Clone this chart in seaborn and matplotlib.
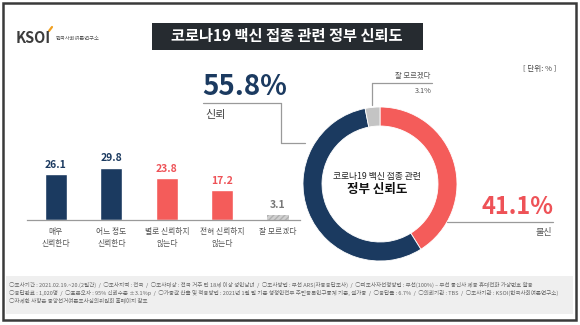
import matplotlib
matplotlib.use("Agg")
import matplotlib.pyplot as plt
import seaborn as sns
from matplotlib.lines import Line2D
from matplotlib.patches import Rectangle

sns.set_theme(style="white")
plt.rcParams['font.family'] = ['Noto Sans CJK KR', 'DejaVu Sans']

# ---------------- data ----------------
title = "코로나19 백신 접종 관련 정부 신뢰도"
categories = ["매우\n신뢰한다", "어느 정도\n신뢰한다", "별로 신뢰하지\n않는다", "전혀 신뢰하지\n않는다", "잘 모르겠다"]
values = [26.1, 29.8, 23.8, 17.2, 3.1]
donut_labels = ["불신", "신뢰", "잘 모르겠다"]
donut_values = [41.1, 55.8, 3.1]
trust_label, trust_value = "신뢰", "55.8%"
distrust_label, distrust_value = "불신", "41.1%"
dk_label, dk_value = "잘 모르겠다", "3.1%"
donut_center = ["코로나19 백신 접종 관련", "정부 신뢰도"]
unit_text = "[ 단위: % ]"
footer_lines = [
    "○조사기간 : 2021.02.19.~20.(2일간)  /  ○조사지역 : 전국  /  ○조사대상 : 전국 거주 만 18세 이상 성인남녀  /  ○조사방법 : 무선 ARS(자동응답조사)  /  ○피조사자선정방법 : 무선(100%) – 무선 통신사 제공 휴대전화 가상번호 활용",
    "○응답완료 : 1,020명  /  ○표본오차 : 95% 신뢰수준 ±3.1%p  /  ○가중값 산출 및 적용방법 : 2021년 1월 말 기준 행정안전부 주민등록인구통계 기준, 셀가중  /  ○응답률 : 6.7%  /  ○의뢰기관 : TBS  /  ○조사기관 : KSOI(한국사회여론연구소)",
    "○자세한 사항은 중앙선거여론조사심의위원회 홈페이지 참조",
]

NAVY = "#1b3a60"
RED = "#f45c5a"
GRAY = "#c4c4c4"
bar_colors = [NAVY, NAVY, RED, RED, GRAY]
label_colors = [NAVY, NAVY, "#ee5257", "#ee5257", "#777777"]

W, H = 580, 325
fig = plt.figure(figsize=(W / 100, H / 100), dpi=100)
fig.patch.set_facecolor("white")


def fx(x):
    return x / W


def fy(y):
    return 1 - y / H


def hline(x0, x1, y, color="#9a9a9a", lw=0.9):
    fig.add_artist(Line2D([fx(x0), fx(x1)], [fy(y), fy(y)], color=color, lw=lw))


def vline(x, y0, y1, color="#9a9a9a", lw=0.9):
    fig.add_artist(Line2D([fx(x), fx(x)], [fy(y0), fy(y1)], color=color, lw=lw))


# outer frame
fig.add_artist(Rectangle((fx(3), fy(320)), fx(573), 317 / H, fill=False,
                         edgecolor="#3a3a3a", lw=1.8))
# footer band
fig.add_artist(Rectangle((fx(6), fy(314)), fx(567), 38 / H, facecolor="#efefef",
                         edgecolor="none"))
for i, line in enumerate(footer_lines):
    fig.text(fx(9), fy(285 + i * 7.5), line, fontsize=4.0, color="#666666",
             va="center", ha="left")

# logo
fig.text(fx(16), fy(38), "KSOI", fontsize=10.5, fontweight="bold", color="#3c3c3c",
         va="center", ha="left")
fig.add_artist(Line2D([fx(49), fx(52)], [fy(31), fy(27)], color="#f0a020", lw=1.6))
fig.text(fx(56), fy(38), "한국사회여론연구소", fontsize=3.8, color="#555555",
         va="center", ha="left")

# title box
fig.add_artist(Rectangle((fx(152), fy(50)), fx(271), 27 / H, facecolor="#262b30",
                         edgecolor="none"))
fig.text(fx(287), fy(36.5), title, fontsize=11, color="white", fontweight="bold",
         va="center", ha="center")

fig.text(fx(556), fy(69), unit_text, fontsize=5.5, color="#444444",
         va="center", ha="right")

# ---------------- bar chart ----------------
ax = fig.add_axes([fx(27), fy(220), (300 - 27) / W, 80 / H])
sns.barplot(x=categories, y=values, hue=categories, palette=bar_colors,
            width=0.4, ax=ax, legend=False, saturation=1)
ax.set_xlim(-0.52, 4.4)
ax.set_ylim(0, 80 / 1.755)
ax.patches[4].set_hatch("//////")
ax.patches[4].set_edgecolor("#b0b0b0")
ax.patches[4].set_linewidth(0)
ax.patches[4].set_facecolor("#d0d0d0")
for i, v in enumerate(values):
    ax.text(i, v + 2.4, f"{v}", ha="center", va="bottom", fontsize=7.5,
            fontweight="bold", color=label_colors[i])
for s in ["top", "right", "left"]:
    ax.spines[s].set_visible(False)
ax.spines["bottom"].set_color("#9a9a9a")
ax.spines["bottom"].set_linewidth(0.9)
ax.set_yticks([])
ax.tick_params(axis="x", length=0, pad=6, labelsize=5.6, labelcolor="#555555")
for t in ax.get_xticklabels():
    t.set_linespacing(1.6)
ax.set_xlabel("")
ax.set_ylabel("")
ax.patch.set_alpha(0)

# ---------------- donut ----------------
cx, cy, half = 380, 184, 80
dax = fig.add_axes([fx(cx - half), fy(cy + half), 2 * half / W, 2 * half / H])
dax.pie(donut_values, colors=[RED, NAVY, GRAY], startangle=90, counterclock=False,
        radius=77 / half, wedgeprops=dict(width=19 / half, edgecolor="white", lw=0.6))
dax.set_xlim(-1, 1)
dax.set_ylim(-1, 1)
dax.set_aspect("equal")
dax.axis("off")
fig.text(fx(377), fy(177), donut_center[0], fontsize=6.3, color="#222222",
         ha="center", va="center")
fig.text(fx(377), fy(189.5), donut_center[1], fontsize=9, color="#111111",
         fontweight="bold", ha="center", va="center")

# trust annotation
fig.text(fx(202), fy(87), trust_value, fontsize=20, fontweight="bold", color=NAVY,
         ha="left", va="center")
hline(203, 281, 103)
vline(281, 103, 143)
hline(281, 305, 143)
fig.text(fx(205), fy(115), trust_label, fontsize=8, color="#444444",
         ha="left", va="center")

# don't know annotation
vline(372, 83, 105)
hline(372, 432, 83)
fig.text(fx(430), fy(76), dk_label, fontsize=5.3, color="#555555",
         ha="right", va="center")
fig.text(fx(432), fy(91), dk_value, fontsize=5.3, color="#555555",
         ha="right", va="center")

# distrust annotation
fig.text(fx(553), fy(207), distrust_value, fontsize=17, fontweight="bold",
         color="#ee5257", ha="right", va="center")
hline(447, 553, 221.5)
fig.text(fx(552), fy(232), distrust_label, fontsize=6.5, color="#555555",
         ha="right", va="center")

fig.savefig("out.png", dpi=100)
